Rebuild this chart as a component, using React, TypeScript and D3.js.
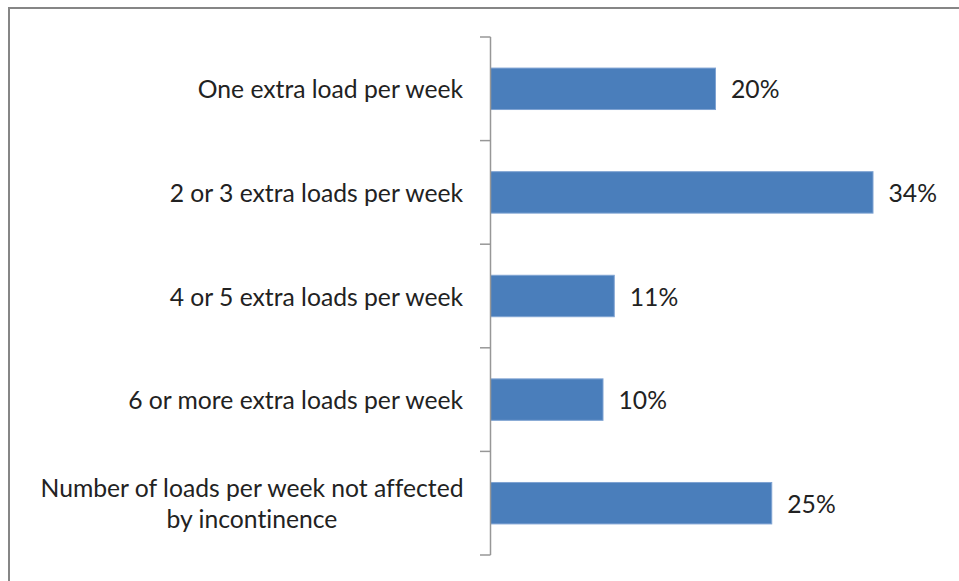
import React from "react";
import * as d3 from "d3";

const categories = [
  "One extra load per week",
  "2 or 3 extra loads per week",
  "4 or 5 extra loads per week",
  "6 or more extra loads per week",
  "Number of loads per week not affected by incontinence",
];
const labelLines = [
  ["One extra load per week"],
  ["2 or 3 extra loads per week"],
  ["4 or 5 extra loads per week"],
  ["6 or more extra loads per week"],
  ["Number of loads per week not affected", "by incontinence"],
];
const values = [20, 34, 11, 10, 25];

const W = 959;
const H = 581;
const FONT = "Lato, 'Open Sans', sans-serif";
const FS = 24.7;
const TEXT_STYLE = { fontVariantLigatures: "none" as const };

export default function App() {
  const x = d3.scaleLinear().domain([0, 40]).range([490, 940]);
  const y = d3.scaleBand<string>().domain(categories).range([37, 555]).padding(0);
  const step = y.step();
  const barH = step * 0.4;
  const tickYs = [...categories.map((c) => y(c) as number), 555];

  return (
    <svg
      width={W}
      height={H}
      style={{ position: "absolute", left: 0, top: 0, background: "#fff" }}
    >
      <rect x={9} y={8} width={980} height={620} fill="#fff" stroke="#868686" strokeWidth={2} />

      {categories.map((c, i) => {
        const top = y(c) as number;
        const cy = top + step / 2;
        return (
          <g key={c}>
            <rect
              x={x(0) + 0.5}
              y={cy - barH / 2}
              width={x(values[i]) - x(0)}
              height={barH}
              fill="#4A7EBB"
              stroke="#7FA3D2"
              strokeWidth={1}
            />
            <text
              x={x(values[i]) + 16}
              y={cy + 9.5}
              fontFamily={FONT}
              fontSize={FS}
              fill="#222"
              style={TEXT_STYLE}
            >
              {values[i]}%
            </text>
            {labelLines[i].length === 1 ? (
              <text
                x={463}
                y={cy + 9.5}
                textAnchor="end"
                fontFamily={FONT}
                fontSize={FS}
                fill="#222"
                style={TEXT_STYLE}
              >
                {labelLines[i][0]}
              </text>
            ) : (
              labelLines[i].map((line, j) => (
                <text
                  key={j}
                  x={252}
                  y={cy + 9.5 + (j - (labelLines[i].length - 1) / 2) * 31}
                  textAnchor="middle"
                  fontFamily={FONT}
                  fontSize={FS}
                  fill="#222"
                  style={TEXT_STYLE}
                >
                  {line}
                </text>
              ))
            )}
          </g>
        );
      })}

      <line x1={490.5} x2={490.5} y1={37} y2={555} stroke="#979797" strokeWidth={1.5} />
      {tickYs.map((t, i) => (
        <line key={i} x1={480} x2={490.5} y1={t} y2={t} stroke="#979797" strokeWidth={1.5} />
      ))}
    </svg>
  );
}
